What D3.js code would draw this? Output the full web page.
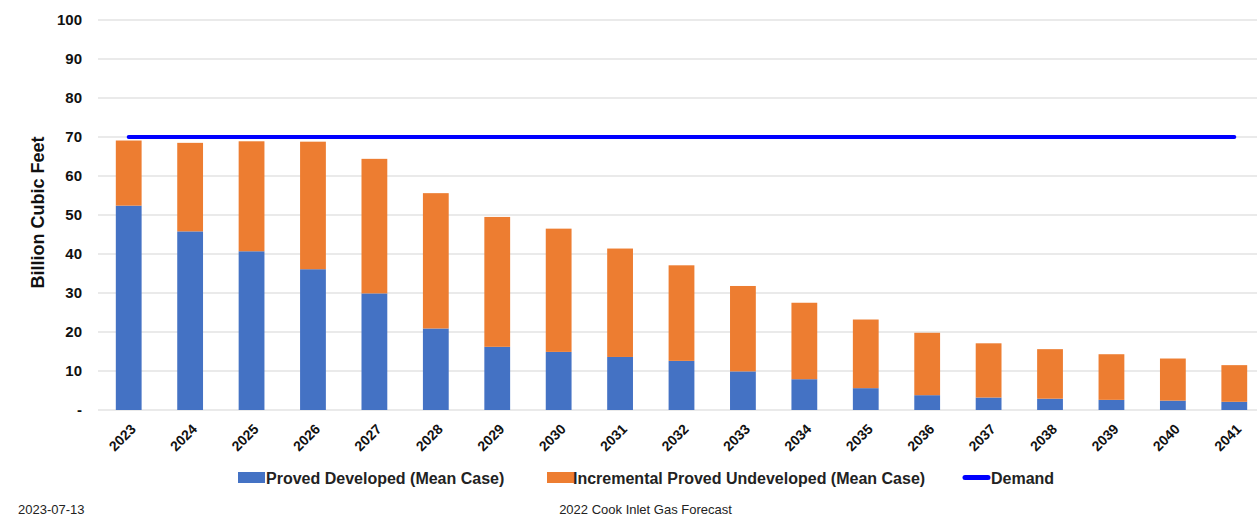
<!DOCTYPE html>
<html><head><meta charset="utf-8">
<script src="https://cdn.jsdelivr.net/npm/d3@7"></script>
<style>body{margin:0;background:#fff;} svg{display:block;font-family:"Liberation Sans",Arial,sans-serif;}</style>
</head><body>
<svg id="c" width="1260" height="518"></svg>
<script>
const years = ["2023","2024","2025","2026","2027","2028","2029","2030","2031","2032","2033","2034","2035","2036","2037","2038","2039","2040","2041"];
const provedDeveloped = [52.4,45.8,40.7,36.1,29.9,20.9,16.2,14.9,13.6,12.6,9.9,7.9,5.6,3.8,3.2,2.9,2.6,2.4,2.1];
const incrementalPUD = [16.7,22.7,28.2,32.7,34.5,34.7,33.3,31.6,27.8,24.5,21.9,19.6,17.6,16.0,13.9,12.7,11.7,10.8,9.4];
const demand = [70,70,70,70,70,70,70,70,70,70,70,70,70,70,70,70,70,70,70];
const yTicks = [0,10,20,30,40,50,60,70,80,90,100];
const seriesNames = ["Proved Developed (Mean Case)","Incremental Proved Undeveloped (Mean Case)","Demand"];
const colors = ["#4472C4","#ED7D31","#0000FF"];

const svg = d3.select("#c");
const mLeft = 98, mRight = 1265, mTop = 20, mBottom = 410;
const x = d3.scaleBand().domain(years).range([mLeft, mRight]).paddingInner(0.58).paddingOuter(0.29);
const y = d3.scaleLinear().domain([0,100]).range([mBottom, mTop]);

// gridlines
svg.append("g").selectAll("line").data(yTicks).join("line")
  .attr("x1", mLeft).attr("x2", 1257)
  .attr("y1", d=>y(d)).attr("y2", d=>y(d))
  .attr("stroke", "#e3e3e3").attr("stroke-width", 1.5);

// y axis labels
const yAxis = d3.axisLeft(y).tickValues(yTicks).tickSize(0).tickPadding(0)
  .tickFormat(d => d === 0 ? "-" : d);
const yg = svg.append("g").attr("transform", `translate(82,0)`).call(yAxis);
yg.select(".domain").remove();
yg.selectAll("text").attr("font-size", 15).attr("font-weight", "bold").attr("fill", "#111")
  .attr("font-family", '"Liberation Sans",Arial,sans-serif');

// y title
svg.append("text").attr("transform", `translate(44,212.5) rotate(-90)`)
  .attr("text-anchor", "middle").attr("font-size", 18).attr("font-weight", "bold").attr("fill", "#111")
  .text("Billion Cubic Feet");

// stacked bars
const rows = years.map((yr,i)=>({year:yr, pd:provedDeveloped[i], inc:incrementalPUD[i]}));
const stack = d3.stack().keys(["pd","inc"])(rows);
svg.append("g").selectAll("g").data(stack).join("g")
  .attr("fill", (d,i)=>colors[i])
  .selectAll("rect").data(d=>d).join("rect")
  .attr("x", d=>x(d.data.year)).attr("width", x.bandwidth())
  .attr("y", d=>y(d[1])).attr("height", d=>y(d[0])-y(d[1]));

// demand line
const line = d3.line().x((d,i)=>x(years[i]) + x.bandwidth()/2).y(d=>y(d));
svg.append("path").datum(demand).attr("d", line)
  .attr("fill","none").attr("stroke", colors[2]).attr("stroke-width", 4).attr("stroke-linecap","round");

// x axis labels
const xAxis = d3.axisBottom(x).tickSize(0).tickPadding(0);
const xg = svg.append("g").attr("transform", `translate(0,${mBottom})`).call(xAxis);
xg.select(".domain").remove();
xg.selectAll("text").attr("font-size", 14).attr("font-weight", "bold").attr("fill", "#111")
  .attr("font-family", '"Liberation Sans",Arial,sans-serif')
  .attr("text-anchor", "end").attr("dy", null).attr("y", 0)
  .attr("transform", "translate(8,20) rotate(-45)");

// legend
const legendItems = [
  {name: seriesNames[0], color: colors[0], sx: 238, tx: 266},
  {name: seriesNames[1], color: colors[1], sx: 547, tx: 573},
  {name: seriesNames[2], color: colors[2], sx: 963, tx: 991, line: true}
];
const lg = svg.append("g");
legendItems.forEach(it => {
  if (it.line) {
    lg.append("line").attr("x1", it.sx+2).attr("x2", it.sx+25).attr("y1", 477.5).attr("y2", 477.5)
      .attr("stroke", it.color).attr("stroke-width", 5).attr("stroke-linecap","round");
  } else {
    lg.append("rect").attr("x", it.sx).attr("y", 472).attr("width", 27).attr("height", 11).attr("fill", it.color);
  }
  lg.append("text").attr("x", it.tx).attr("y", 483.5).attr("font-size", 16).attr("font-weight", "bold").attr("fill", "#222")
    .text(it.name);
});

// footer
svg.append("text").attr("x", 18).attr("y", 514).attr("font-size", 13).attr("fill", "#222").text("2023-07-13");
svg.append("text").attr("x", 645.5).attr("y", 514).attr("text-anchor","middle").attr("font-size", 13).attr("fill", "#222").text("2022 Cook Inlet Gas Forecast");
</script>
</body></html>
